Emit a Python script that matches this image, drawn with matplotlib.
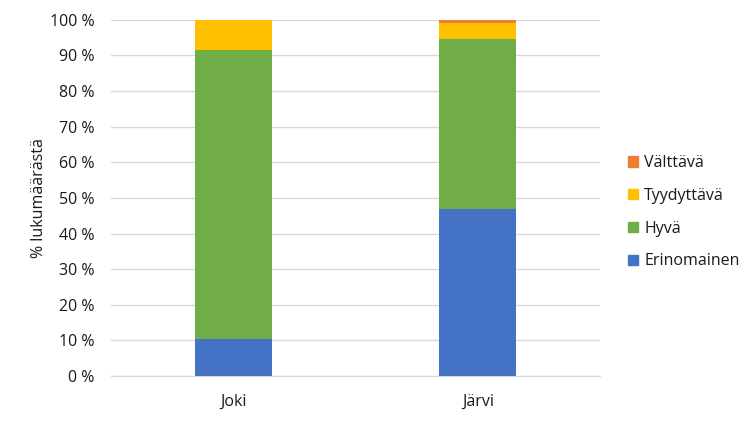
import matplotlib.pyplot as plt
import numpy as np
from matplotlib.patches import Patch
from matplotlib.ticker import FuncFormatter

plt.rcParams['font.family'] = ['Open Sans', 'DejaVu Sans']

categories = ["Joki", "Järvi"]
erinomainen = [10.5, 46.9]
hyva = [81.1, 47.8]
tyydyttava = [8.4, 4.5]
valttava = [0.0, 0.8]

series = [
    ("Erinomainen", erinomainen, "#4472C4"),
    ("Hyvä", hyva, "#70AD47"),
    ("Tyydyttävä", tyydyttava, "#FFC000"),
    ("Välttävä", valttava, "#ED7D31"),
]

fig = plt.figure(figsize=(7.55, 4.22), dpi=100)
ax = fig.add_axes([0.147, 0.109, 0.648, 0.844])

x = np.arange(len(categories))
bottom = np.zeros(len(categories))
for name, vals, color in series:
    ax.bar(x, vals, bottom=bottom, width=0.315, color=color, zorder=3)
    bottom += np.array(vals)

ax.set_xlim(-0.5, 1.5)
ax.set_ylim(0, 100)
ax.set_yticks(np.arange(0, 101, 10))
ax.yaxis.set_major_formatter(FuncFormatter(lambda v, p: f"{int(v)} %"))
ax.set_xticks(x)
ax.set_xticklabels(categories)
ax.grid(axis='y', color='#D9D9D9', linewidth=1, zorder=0)
for s in ['top', 'right', 'left']:
    ax.spines[s].set_visible(False)
ax.spines['bottom'].set_color('#D9D9D9')
ax.tick_params(axis='y', length=0, labelsize=11.5, colors='#1a1a1a', pad=12)
ax.tick_params(axis='x', length=0, labelsize=11.5, colors='#1a1a1a', pad=13)
ax.set_ylabel("% lukumäärästä", fontsize=11.5, color='#1a1a1a', labelpad=2)

handles = [Patch(color=c, label=n) for n, v, c in series][::-1]
fig.legend(handles=handles, loc='center left', bbox_to_anchor=(0.813, 0.497),
           frameon=False, fontsize=11.5, handlelength=0.6, handleheight=0.6,
           labelspacing=1.05, handletextpad=0.4, labelcolor='#1a1a1a')

fig.savefig("out.png", dpi=100)
